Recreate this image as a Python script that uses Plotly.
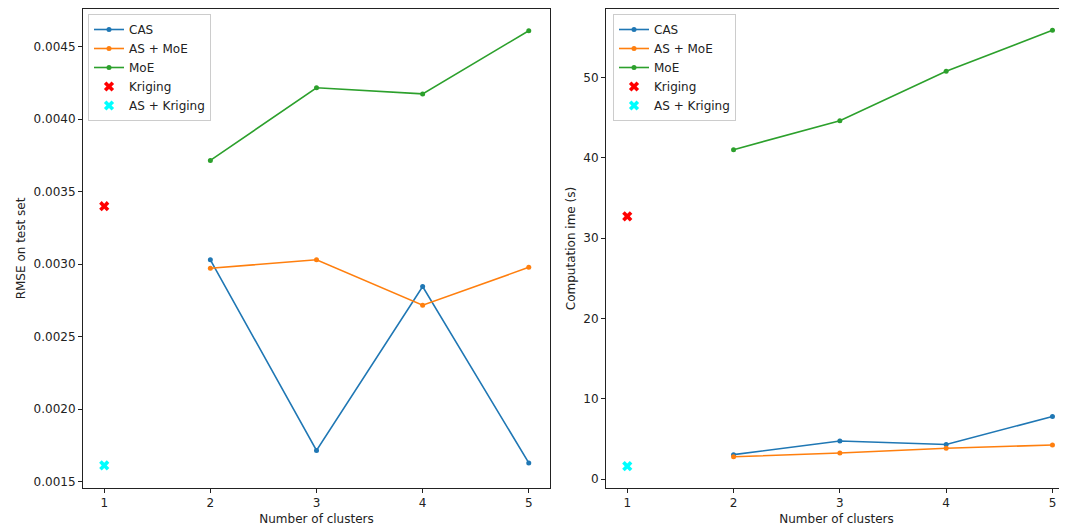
import plotly.graph_objects as go

clusters = [2, 3, 4, 5]
single = [1]

rmse_cas = [0.003030, 0.001714, 0.002845, 0.001628]
rmse_as_moe = [0.002972, 0.003030, 0.002717, 0.002978]
rmse_moe = [0.003716, 0.004217, 0.004175, 0.004611]
rmse_kriging = [0.003400]
rmse_as_kriging = [0.001611]

time_cas = [3.05, 4.75, 4.32, 7.80]
time_as_moe = [2.78, 3.25, 3.84, 4.25]
time_moe = [41.0, 44.6, 50.75, 55.85]
time_kriging = [32.7]
time_as_kriging = [1.62]

C_BLUE = "#1f77b4"
C_ORANGE = "#ff7f0e"
C_GREEN = "#2ca02c"

fig = go.Figure()

def add_panel(xa, ya, leg, cas, asmoe, moe, krig, askrig):
    for name, vals, col in [("CAS", cas, C_BLUE), ("AS + MoE", asmoe, C_ORANGE), ("MoE", moe, C_GREEN)]:
        fig.add_trace(go.Scatter(x=clusters, y=vals, mode="lines+markers", name=name,
                                 line=dict(color=col, width=1.6), marker=dict(color=col, size=5),
                                 xaxis=xa, yaxis=ya, legend=leg))
    fig.add_trace(go.Scatter(x=single, y=krig, mode="markers", name="Kriging",
                             marker=dict(color="red", symbol="x", size=9, line=dict(width=0)),
                             xaxis=xa, yaxis=ya, legend=leg))
    fig.add_trace(go.Scatter(x=single, y=askrig, mode="markers", name="AS + Kriging",
                             marker=dict(color="cyan", symbol="x", size=9, line=dict(width=0)),
                             xaxis=xa, yaxis=ya, legend=leg))

add_panel("x", "y", "legend", rmse_cas, rmse_as_moe, rmse_moe, rmse_kriging, rmse_as_kriging)
add_panel("x2", "y2", "legend2", time_cas, time_as_moe, time_moe, time_kriging, time_as_kriging)

# page body has an 8px margin: figure coords = screen coords - 8
OFF = 8
W, H = 1067 - OFF, 528 - OFF
TOP, BOT = 9 - OFF, 488 - OFF
FS = 12
axis_common = dict(showgrid=False, zeroline=False, showline=True, linecolor="#222", linewidth=1,
                   ticks="outside", ticklen=4, tickcolor="#222", mirror=True, automargin=False,
                   tickfont=dict(size=FS, color="#222"))
font = dict(family="DejaVu Sans", size=FS, color="#222")

legend_common = dict(bgcolor="rgba(255,255,255,0.8)", bordercolor="#cccccc", borderwidth=1,
                     font=dict(size=FS, color="#222"), itemwidth=30, xanchor="left", yanchor="top",
                     tracegroupgap=0)

L1, R1 = 83 - OFF, 550 - OFF
L2 = 606 - OFF

fig.update_layout(
    width=W, height=H,
    margin=dict(l=0, r=0, t=TOP, b=H - BOT, autoexpand=False),
    paper_bgcolor="white", plot_bgcolor="white",
    font=font,
    showlegend=True,
    xaxis=dict(domain=[L1 / W, R1 / W], range=[0.8, 5.2], tickvals=[1, 2, 3, 4, 5],
               title=dict(text="Number of clusters", standoff=5, font=dict(size=FS)), anchor="y", **axis_common),
    yaxis=dict(domain=[0, 1], range=[0.001455, 0.004761], dtick=0.0005, tick0=0.0015,
               tickformat=".4f", title=dict(text="RMSE on test set", standoff=5, font=dict(size=FS)), anchor="x",
               **axis_common),
    xaxis2=dict(domain=[L2 / W, 1.0], range=[0.8, 0.8 + (W - L2) / 106.3], tickvals=[1, 2, 3, 4, 5],
                title=dict(text="Number of clusters", standoff=5, font=dict(size=FS)), anchor="y2", **axis_common),
    yaxis2=dict(domain=[0, 1], range=[-1.1, 58.5], dtick=10, tick0=0,
                title=dict(text="Computation ime (s)", standoff=5, font=dict(size=FS)), anchor="x2", **axis_common),
    legend=dict(x=(88 - OFF) / W, y=1 - 5 / (BOT - TOP), **legend_common),
    legend2=dict(x=(613 - OFF) / W, y=1 - 5 / (BOT - TOP), **legend_common),
)

fig.write_html("out.html")
